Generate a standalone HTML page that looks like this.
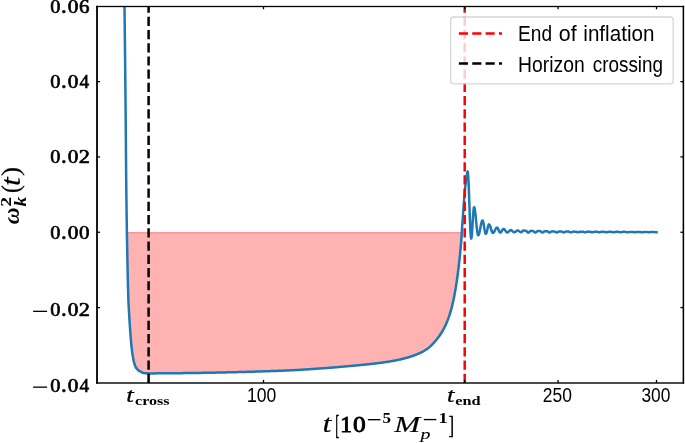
<!DOCTYPE html>
<html><head><meta charset="utf-8"><style>
html,body{margin:0;padding:0;background:#fff;}
svg{display:block;}
text,rect.k{fill:#000;}
.tx{filter:grayscale(1);}
.sans{font-family:"Liberation Sans",sans-serif;}
.ser{font-family:"Liberation Serif",serif;font-weight:bold;}
.serr{font-family:"Liberation Serif",serif;}
.si{font-family:"Liberation Serif",serif;font-style:italic;}
.bi{font-family:"Liberation Serif",serif;font-weight:bold;font-style:italic;}
</style></head><body>
<svg width="685" height="443" viewBox="0 0 685 443">
<defs><clipPath id="ax"><rect x="97.0" y="6.3" width="586.40" height="376.60"/></clipPath></defs>
<rect width="685" height="443" fill="#fff"/>
<g clip-path="url(#ax)">
<path d="M126.90,232.61 L126.94,235.06 L126.98,237.51 L127.02,239.97 L127.06,242.43 L127.11,244.89 L127.15,247.35 L127.20,249.81 L127.25,252.27 L127.29,254.73 L127.34,257.19 L127.39,259.65 L127.44,262.11 L127.49,264.57 L127.54,267.03 L127.59,269.49 L127.65,271.95 L127.70,274.41 L127.75,276.87 L127.81,279.33 L127.87,281.79 L127.93,284.25 L127.99,286.71 L128.06,289.17 L128.13,291.63 L128.20,294.09 L128.28,296.55 L128.36,299.01 L128.46,301.47 L128.56,303.93 L128.69,306.39 L128.82,308.85 L128.96,311.31 L129.11,313.77 L129.26,316.23 L129.42,318.69 L129.57,321.15 L129.72,323.61 L129.88,326.07 L130.04,328.52 L130.21,330.98 L130.39,333.44 L130.57,335.90 L130.76,338.36 L130.97,340.82 L131.19,343.28 L131.44,345.74 L131.71,348.20 L132.00,350.66 L132.32,353.12 L132.69,355.58 L133.11,358.04 L133.59,360.50 L134.18,362.96 L134.94,365.42 L136.10,367.88 L138.34,370.34 L142.80,372.80 L143.30,372.91 L143.80,373.02 L144.30,373.11 L144.80,373.19 L145.30,373.25 L145.80,373.29 L146.30,373.31 L146.80,373.33 L147.30,373.35 L147.80,373.37 L148.30,373.38 L148.80,373.39 L149.30,373.40 L149.80,373.40 L150.30,373.40 L150.80,373.40 L151.30,373.40 L151.80,373.40 L152.30,373.40 L152.80,373.39 L153.30,373.39 L153.80,373.39 L154.30,373.39 L154.80,373.38 L155.30,373.38 L155.80,373.38 L156.30,373.37 L156.80,373.37 L157.30,373.37 L157.80,373.36 L158.30,373.36 L158.80,373.35 L159.30,373.35 L159.80,373.35 L160.30,373.34 L160.80,373.34 L161.30,373.33 L161.80,373.33 L162.30,373.32 L162.80,373.32 L163.30,373.31 L163.80,373.31 L164.30,373.31 L164.80,373.30 L165.30,373.30 L165.80,373.29 L166.30,373.29 L166.80,373.29 L167.30,373.28 L167.80,373.28 L168.30,373.27 L168.80,373.27 L169.30,373.26 L169.80,373.26 L170.30,373.25 L170.80,373.25 L171.30,373.24 L171.80,373.24 L172.30,373.24 L172.80,373.23 L173.30,373.23 L173.80,373.22 L174.30,373.22 L174.80,373.21 L175.30,373.21 L175.80,373.20 L176.30,373.20 L176.80,373.19 L177.30,373.19 L177.80,373.18 L178.30,373.17 L178.80,373.17 L179.30,373.16 L179.80,373.16 L180.30,373.15 L180.80,373.15 L181.30,373.14 L181.80,373.14 L182.30,373.13 L182.80,373.13 L183.30,373.12 L183.80,373.11 L184.30,373.11 L184.80,373.10 L185.30,373.10 L185.80,373.09 L186.30,373.08 L186.80,373.08 L187.30,373.07 L187.80,373.07 L188.30,373.06 L188.80,373.05 L189.30,373.05 L189.80,373.04 L190.30,373.03 L190.80,373.03 L191.30,373.02 L191.80,373.01 L192.30,373.01 L192.80,373.00 L193.30,372.99 L193.80,372.99 L194.30,372.98 L194.80,372.97 L195.30,372.97 L195.80,372.96 L196.30,372.95 L196.80,372.95 L197.30,372.94 L197.80,372.93 L198.30,372.92 L198.80,372.92 L199.30,372.91 L199.80,372.90 L200.30,372.90 L200.80,372.89 L201.30,372.88 L201.80,372.87 L202.30,372.87 L202.80,372.86 L203.30,372.85 L203.80,372.84 L204.30,372.83 L204.80,372.82 L205.30,372.82 L205.80,372.81 L206.30,372.80 L206.80,372.79 L207.30,372.78 L207.80,372.77 L208.30,372.76 L208.80,372.75 L209.30,372.74 L209.80,372.74 L210.30,372.73 L210.80,372.72 L211.30,372.71 L211.80,372.70 L212.30,372.69 L212.80,372.68 L213.30,372.67 L213.80,372.66 L214.30,372.65 L214.80,372.64 L215.30,372.63 L215.80,372.62 L216.30,372.61 L216.80,372.60 L217.30,372.59 L217.80,372.57 L218.30,372.56 L218.80,372.55 L219.30,372.54 L219.80,372.53 L220.30,372.52 L220.80,372.51 L221.30,372.50 L221.80,372.49 L222.30,372.48 L222.80,372.47 L223.30,372.45 L223.80,372.44 L224.30,372.43 L224.80,372.42 L225.30,372.41 L225.80,372.40 L226.30,372.39 L226.80,372.37 L227.30,372.36 L227.80,372.35 L228.30,372.34 L228.80,372.33 L229.30,372.32 L229.80,372.30 L230.30,372.29 L230.80,372.28 L231.30,372.27 L231.80,372.26 L232.30,372.25 L232.80,372.23 L233.30,372.22 L233.80,372.21 L234.30,372.20 L234.80,372.18 L235.30,372.17 L235.80,372.16 L236.30,372.15 L236.80,372.13 L237.30,372.12 L237.80,372.11 L238.30,372.09 L238.80,372.08 L239.30,372.07 L239.80,372.06 L240.30,372.04 L240.80,372.03 L241.30,372.02 L241.80,372.00 L242.30,371.99 L242.80,371.97 L243.30,371.96 L243.80,371.95 L244.30,371.93 L244.80,371.92 L245.30,371.91 L245.80,371.89 L246.30,371.88 L246.80,371.86 L247.30,371.85 L247.80,371.83 L248.30,371.82 L248.80,371.81 L249.30,371.79 L249.80,371.78 L250.30,371.76 L250.80,371.75 L251.30,371.73 L251.80,371.72 L252.30,371.70 L252.80,371.69 L253.30,371.67 L253.80,371.66 L254.30,371.64 L254.80,371.63 L255.30,371.61 L255.80,371.60 L256.30,371.58 L256.80,371.56 L257.30,371.55 L257.80,371.53 L258.30,371.52 L258.80,371.50 L259.30,371.49 L259.80,371.47 L260.30,371.45 L260.80,371.44 L261.30,371.42 L261.80,371.41 L262.30,371.39 L262.80,371.37 L263.30,371.36 L263.80,371.34 L264.30,371.32 L264.80,371.31 L265.30,371.29 L265.80,371.27 L266.30,371.26 L266.80,371.24 L267.30,371.22 L267.80,371.21 L268.30,371.19 L268.80,371.17 L269.30,371.16 L269.80,371.14 L270.30,371.12 L270.80,371.10 L271.30,371.09 L271.80,371.07 L272.30,371.05 L272.80,371.04 L273.30,371.02 L273.80,371.00 L274.30,370.98 L274.80,370.97 L275.30,370.95 L275.80,370.93 L276.30,370.91 L276.80,370.89 L277.30,370.88 L277.80,370.86 L278.30,370.84 L278.80,370.82 L279.30,370.80 L279.80,370.78 L280.30,370.76 L280.80,370.74 L281.30,370.72 L281.80,370.70 L282.30,370.68 L282.80,370.66 L283.30,370.64 L283.80,370.62 L284.30,370.60 L284.80,370.58 L285.30,370.56 L285.80,370.53 L286.30,370.51 L286.80,370.49 L287.30,370.47 L287.80,370.45 L288.30,370.42 L288.80,370.40 L289.30,370.38 L289.80,370.35 L290.30,370.33 L290.80,370.31 L291.30,370.28 L291.80,370.26 L292.30,370.23 L292.80,370.21 L293.30,370.18 L293.80,370.16 L294.30,370.13 L294.80,370.10 L295.30,370.08 L295.80,370.05 L296.30,370.03 L296.80,370.00 L297.30,369.97 L297.80,369.94 L298.30,369.92 L298.80,369.89 L299.30,369.86 L299.80,369.83 L300.30,369.80 L300.80,369.77 L301.30,369.74 L301.80,369.71 L302.30,369.68 L302.80,369.65 L303.30,369.62 L303.80,369.59 L304.30,369.56 L304.80,369.53 L305.30,369.49 L305.80,369.46 L306.30,369.43 L306.80,369.39 L307.30,369.36 L307.80,369.33 L308.30,369.29 L308.80,369.26 L309.30,369.23 L309.80,369.19 L310.30,369.16 L310.80,369.13 L311.30,369.09 L311.80,369.06 L312.30,369.02 L312.80,368.99 L313.30,368.96 L313.80,368.92 L314.30,368.89 L314.80,368.85 L315.30,368.82 L315.80,368.78 L316.30,368.75 L316.80,368.71 L317.30,368.68 L317.80,368.64 L318.30,368.61 L318.80,368.57 L319.30,368.54 L319.80,368.50 L320.30,368.47 L320.80,368.43 L321.30,368.39 L321.80,368.36 L322.30,368.32 L322.80,368.28 L323.30,368.25 L323.80,368.21 L324.30,368.17 L324.80,368.14 L325.30,368.10 L325.80,368.06 L326.30,368.02 L326.80,367.99 L327.30,367.95 L327.80,367.91 L328.30,367.87 L328.80,367.83 L329.30,367.79 L329.80,367.75 L330.30,367.71 L330.80,367.67 L331.30,367.63 L331.80,367.59 L332.30,367.55 L332.80,367.51 L333.30,367.47 L333.80,367.43 L334.30,367.39 L334.80,367.35 L335.30,367.31 L335.80,367.27 L336.30,367.23 L336.80,367.18 L337.30,367.14 L337.80,367.10 L338.30,367.06 L338.80,367.01 L339.30,366.97 L339.80,366.93 L340.30,366.89 L340.80,366.84 L341.30,366.80 L341.80,366.76 L342.30,366.71 L342.80,366.67 L343.30,366.62 L343.80,366.58 L344.30,366.54 L344.80,366.49 L345.30,366.45 L345.80,366.40 L346.30,366.36 L346.80,366.31 L347.30,366.27 L347.80,366.22 L348.30,366.18 L348.80,366.13 L349.30,366.09 L349.80,366.04 L350.30,366.00 L350.80,365.95 L351.30,365.90 L351.80,365.86 L352.30,365.81 L352.80,365.76 L353.30,365.72 L353.80,365.67 L354.30,365.63 L354.80,365.58 L355.30,365.53 L355.80,365.48 L356.30,365.44 L356.80,365.39 L357.30,365.34 L357.80,365.30 L358.30,365.25 L358.80,365.20 L359.30,365.15 L359.80,365.10 L360.30,365.06 L360.80,365.01 L361.30,364.96 L361.80,364.91 L362.30,364.86 L362.80,364.81 L363.30,364.76 L363.80,364.71 L364.30,364.66 L364.80,364.61 L365.30,364.56 L365.80,364.51 L366.30,364.46 L366.80,364.40 L367.30,364.35 L367.80,364.30 L368.30,364.25 L368.80,364.19 L369.30,364.14 L369.80,364.09 L370.30,364.03 L370.80,363.98 L371.30,363.92 L371.80,363.87 L372.30,363.81 L372.80,363.75 L373.30,363.70 L373.80,363.64 L374.30,363.58 L374.80,363.52 L375.30,363.46 L375.80,363.40 L376.30,363.34 L376.80,363.28 L377.30,363.22 L377.80,363.16 L378.30,363.10 L378.80,363.03 L379.30,362.97 L379.80,362.91 L380.30,362.84 L380.80,362.77 L381.30,362.71 L381.80,362.64 L382.30,362.57 L382.80,362.50 L383.30,362.43 L383.80,362.36 L384.30,362.29 L384.80,362.22 L385.30,362.15 L385.80,362.07 L386.30,362.00 L386.80,361.92 L387.30,361.84 L387.80,361.77 L388.30,361.69 L388.80,361.61 L389.30,361.53 L389.80,361.44 L390.30,361.36 L390.80,361.28 L391.30,361.19 L391.80,361.10 L392.30,361.02 L392.80,360.93 L393.30,360.84 L393.80,360.74 L394.30,360.65 L394.80,360.56 L395.30,360.46 L395.80,360.36 L396.30,360.26 L396.80,360.16 L397.30,360.06 L397.80,359.96 L398.30,359.85 L398.80,359.74 L399.30,359.64 L399.80,359.53 L400.30,359.41 L400.80,359.30 L401.30,359.18 L401.80,359.06 L402.30,358.94 L402.80,358.82 L403.30,358.70 L403.80,358.57 L404.30,358.44 L404.80,358.31 L405.30,358.18 L405.80,358.05 L406.30,357.91 L406.80,357.77 L407.30,357.63 L407.80,357.48 L408.30,357.33 L408.80,357.18 L409.30,357.03 L409.80,356.87 L410.30,356.71 L410.80,356.55 L411.30,356.39 L411.80,356.22 L412.30,356.05 L412.80,355.87 L413.30,355.70 L413.80,355.52 L414.30,355.33 L414.80,355.14 L415.30,354.95 L415.80,354.76 L416.30,354.56 L416.80,354.35 L417.30,354.14 L417.80,353.93 L418.30,353.72 L418.80,353.50 L419.30,353.27 L419.80,353.04 L420.30,352.81 L420.80,352.57 L421.30,352.33 L421.80,352.08 L422.30,351.82 L422.80,351.55 L423.30,351.28 L423.80,351.00 L424.30,350.72 L424.80,350.42 L425.30,350.11 L425.80,349.80 L426.30,349.47 L426.80,349.13 L427.30,348.78 L427.80,348.41 L428.30,348.03 L428.80,347.64 L429.30,347.23 L429.80,346.80 L430.30,346.36 L430.80,345.89 L431.30,345.41 L431.80,344.92 L432.30,344.41 L432.80,343.88 L433.30,343.35 L433.80,342.80 L434.30,342.24 L434.80,341.68 L435.30,341.10 L435.80,340.51 L436.30,339.91 L436.80,339.30 L437.30,338.67 L437.80,338.03 L438.30,337.37 L438.80,336.70 L439.30,336.01 L439.80,335.30 L440.30,334.56 L440.80,333.81 L441.30,333.03 L441.80,332.23 L442.30,331.40 L442.80,330.54 L443.30,329.64 L443.80,328.72 L444.30,327.76 L444.80,326.76 L445.30,325.73 L445.80,324.65 L446.30,323.52 L446.80,322.35 L447.30,321.13 L447.80,319.85 L448.30,318.51 L448.80,317.11 L449.30,315.64 L449.80,314.10 L450.30,312.49 L450.80,310.79 L451.30,309.00 L451.80,307.11 L452.30,305.11 L452.80,303.01 L453.30,300.78 L453.80,298.42 L454.30,295.93 L454.80,293.29 L455.30,290.49 L455.80,287.53 L456.30,284.39 L456.80,281.06 L457.30,277.52 L457.80,273.78 L458.30,269.80 L458.80,265.57 L459.30,261.08 L459.80,256.30 L460.30,251.22 L460.80,245.82 L461.30,240.06 L461.59,235.95 L461.69,234.26 L461.78,232.61 Z" fill="rgba(255,0,0,0.3)" stroke="rgba(255,0,0,0.3)" stroke-width="1.27"/>
<path d="M124.50,6.30 L124.53,8.76 L124.56,11.22 L124.59,13.68 L124.61,16.14 L124.64,18.60 L124.67,21.06 L124.70,23.52 L124.73,25.98 L124.75,28.44 L124.78,30.90 L124.81,33.36 L124.84,35.82 L124.86,38.28 L124.89,40.74 L124.92,43.20 L124.95,45.66 L124.97,48.12 L125.00,50.58 L125.03,53.03 L125.05,55.49 L125.08,57.95 L125.10,60.41 L125.13,62.87 L125.16,65.33 L125.18,67.79 L125.21,70.25 L125.23,72.71 L125.26,75.17 L125.28,77.63 L125.31,80.09 L125.34,82.55 L125.36,85.01 L125.39,87.47 L125.41,89.93 L125.44,92.39 L125.46,94.85 L125.48,97.31 L125.51,99.77 L125.53,102.23 L125.56,104.69 L125.58,107.15 L125.60,109.61 L125.63,112.07 L125.65,114.53 L125.67,116.99 L125.69,119.45 L125.72,121.91 L125.74,124.37 L125.76,126.83 L125.78,129.29 L125.80,131.75 L125.82,134.21 L125.84,136.67 L125.86,139.13 L125.88,141.59 L125.90,144.04 L125.92,146.50 L125.93,148.96 L125.95,151.42 L125.97,153.88 L125.99,156.34 L126.01,158.80 L126.03,161.26 L126.05,163.72 L126.07,166.18 L126.09,168.64 L126.12,171.10 L126.14,173.56 L126.16,176.02 L126.18,178.48 L126.21,180.94 L126.24,183.40 L126.26,185.86 L126.29,188.32 L126.32,190.78 L126.35,193.24 L126.37,195.70 L126.40,198.16 L126.44,200.62 L126.47,203.08 L126.50,205.54 L126.53,208.00 L126.57,210.46 L126.60,212.92 L126.63,215.38 L126.67,217.84 L126.70,220.30 L126.74,222.76 L126.78,225.22 L126.82,227.68 L126.85,230.14 L126.89,232.60 L126.94,235.06 L126.98,237.51 L127.02,239.97 L127.06,242.43 L127.11,244.89 L127.15,247.35 L127.20,249.81 L127.25,252.27 L127.29,254.73 L127.34,257.19 L127.39,259.65 L127.44,262.11 L127.49,264.57 L127.54,267.03 L127.59,269.49 L127.65,271.95 L127.70,274.41 L127.75,276.87 L127.81,279.33 L127.87,281.79 L127.93,284.25 L127.99,286.71 L128.06,289.17 L128.13,291.63 L128.20,294.09 L128.28,296.55 L128.36,299.01 L128.46,301.47 L128.56,303.93 L128.69,306.39 L128.82,308.85 L128.96,311.31 L129.11,313.77 L129.26,316.23 L129.42,318.69 L129.57,321.15 L129.72,323.61 L129.88,326.07 L130.04,328.52 L130.21,330.98 L130.39,333.44 L130.57,335.90 L130.76,338.36 L130.97,340.82 L131.19,343.28 L131.44,345.74 L131.71,348.20 L132.00,350.66 L132.32,353.12 L132.69,355.58 L133.11,358.04 L133.59,360.50 L134.18,362.96 L134.94,365.42 L136.10,367.88 L138.34,370.34 L142.80,372.80 L143.30,372.91 L143.80,373.02 L144.30,373.11 L144.80,373.19 L145.30,373.25 L145.80,373.29 L146.30,373.31 L146.80,373.33 L147.30,373.35 L147.80,373.37 L148.30,373.38 L148.80,373.39 L149.30,373.40 L149.80,373.40 L150.30,373.40 L150.80,373.40 L151.30,373.40 L151.80,373.40 L152.30,373.40 L152.80,373.39 L153.30,373.39 L153.80,373.39 L154.30,373.39 L154.80,373.38 L155.30,373.38 L155.80,373.38 L156.30,373.37 L156.80,373.37 L157.30,373.37 L157.80,373.36 L158.30,373.36 L158.80,373.35 L159.30,373.35 L159.80,373.35 L160.30,373.34 L160.80,373.34 L161.30,373.33 L161.80,373.33 L162.30,373.32 L162.80,373.32 L163.30,373.31 L163.80,373.31 L164.30,373.31 L164.80,373.30 L165.30,373.30 L165.80,373.29 L166.30,373.29 L166.80,373.29 L167.30,373.28 L167.80,373.28 L168.30,373.27 L168.80,373.27 L169.30,373.26 L169.80,373.26 L170.30,373.25 L170.80,373.25 L171.30,373.24 L171.80,373.24 L172.30,373.24 L172.80,373.23 L173.30,373.23 L173.80,373.22 L174.30,373.22 L174.80,373.21 L175.30,373.21 L175.80,373.20 L176.30,373.20 L176.80,373.19 L177.30,373.19 L177.80,373.18 L178.30,373.17 L178.80,373.17 L179.30,373.16 L179.80,373.16 L180.30,373.15 L180.80,373.15 L181.30,373.14 L181.80,373.14 L182.30,373.13 L182.80,373.13 L183.30,373.12 L183.80,373.11 L184.30,373.11 L184.80,373.10 L185.30,373.10 L185.80,373.09 L186.30,373.08 L186.80,373.08 L187.30,373.07 L187.80,373.07 L188.30,373.06 L188.80,373.05 L189.30,373.05 L189.80,373.04 L190.30,373.03 L190.80,373.03 L191.30,373.02 L191.80,373.01 L192.30,373.01 L192.80,373.00 L193.30,372.99 L193.80,372.99 L194.30,372.98 L194.80,372.97 L195.30,372.97 L195.80,372.96 L196.30,372.95 L196.80,372.95 L197.30,372.94 L197.80,372.93 L198.30,372.92 L198.80,372.92 L199.30,372.91 L199.80,372.90 L200.30,372.90 L200.80,372.89 L201.30,372.88 L201.80,372.87 L202.30,372.87 L202.80,372.86 L203.30,372.85 L203.80,372.84 L204.30,372.83 L204.80,372.82 L205.30,372.82 L205.80,372.81 L206.30,372.80 L206.80,372.79 L207.30,372.78 L207.80,372.77 L208.30,372.76 L208.80,372.75 L209.30,372.74 L209.80,372.74 L210.30,372.73 L210.80,372.72 L211.30,372.71 L211.80,372.70 L212.30,372.69 L212.80,372.68 L213.30,372.67 L213.80,372.66 L214.30,372.65 L214.80,372.64 L215.30,372.63 L215.80,372.62 L216.30,372.61 L216.80,372.60 L217.30,372.59 L217.80,372.57 L218.30,372.56 L218.80,372.55 L219.30,372.54 L219.80,372.53 L220.30,372.52 L220.80,372.51 L221.30,372.50 L221.80,372.49 L222.30,372.48 L222.80,372.47 L223.30,372.45 L223.80,372.44 L224.30,372.43 L224.80,372.42 L225.30,372.41 L225.80,372.40 L226.30,372.39 L226.80,372.37 L227.30,372.36 L227.80,372.35 L228.30,372.34 L228.80,372.33 L229.30,372.32 L229.80,372.30 L230.30,372.29 L230.80,372.28 L231.30,372.27 L231.80,372.26 L232.30,372.25 L232.80,372.23 L233.30,372.22 L233.80,372.21 L234.30,372.20 L234.80,372.18 L235.30,372.17 L235.80,372.16 L236.30,372.15 L236.80,372.13 L237.30,372.12 L237.80,372.11 L238.30,372.09 L238.80,372.08 L239.30,372.07 L239.80,372.06 L240.30,372.04 L240.80,372.03 L241.30,372.02 L241.80,372.00 L242.30,371.99 L242.80,371.97 L243.30,371.96 L243.80,371.95 L244.30,371.93 L244.80,371.92 L245.30,371.91 L245.80,371.89 L246.30,371.88 L246.80,371.86 L247.30,371.85 L247.80,371.83 L248.30,371.82 L248.80,371.81 L249.30,371.79 L249.80,371.78 L250.30,371.76 L250.80,371.75 L251.30,371.73 L251.80,371.72 L252.30,371.70 L252.80,371.69 L253.30,371.67 L253.80,371.66 L254.30,371.64 L254.80,371.63 L255.30,371.61 L255.80,371.60 L256.30,371.58 L256.80,371.56 L257.30,371.55 L257.80,371.53 L258.30,371.52 L258.80,371.50 L259.30,371.49 L259.80,371.47 L260.30,371.45 L260.80,371.44 L261.30,371.42 L261.80,371.41 L262.30,371.39 L262.80,371.37 L263.30,371.36 L263.80,371.34 L264.30,371.32 L264.80,371.31 L265.30,371.29 L265.80,371.27 L266.30,371.26 L266.80,371.24 L267.30,371.22 L267.80,371.21 L268.30,371.19 L268.80,371.17 L269.30,371.16 L269.80,371.14 L270.30,371.12 L270.80,371.10 L271.30,371.09 L271.80,371.07 L272.30,371.05 L272.80,371.04 L273.30,371.02 L273.80,371.00 L274.30,370.98 L274.80,370.97 L275.30,370.95 L275.80,370.93 L276.30,370.91 L276.80,370.89 L277.30,370.88 L277.80,370.86 L278.30,370.84 L278.80,370.82 L279.30,370.80 L279.80,370.78 L280.30,370.76 L280.80,370.74 L281.30,370.72 L281.80,370.70 L282.30,370.68 L282.80,370.66 L283.30,370.64 L283.80,370.62 L284.30,370.60 L284.80,370.58 L285.30,370.56 L285.80,370.53 L286.30,370.51 L286.80,370.49 L287.30,370.47 L287.80,370.45 L288.30,370.42 L288.80,370.40 L289.30,370.38 L289.80,370.35 L290.30,370.33 L290.80,370.31 L291.30,370.28 L291.80,370.26 L292.30,370.23 L292.80,370.21 L293.30,370.18 L293.80,370.16 L294.30,370.13 L294.80,370.10 L295.30,370.08 L295.80,370.05 L296.30,370.03 L296.80,370.00 L297.30,369.97 L297.80,369.94 L298.30,369.92 L298.80,369.89 L299.30,369.86 L299.80,369.83 L300.30,369.80 L300.80,369.77 L301.30,369.74 L301.80,369.71 L302.30,369.68 L302.80,369.65 L303.30,369.62 L303.80,369.59 L304.30,369.56 L304.80,369.53 L305.30,369.49 L305.80,369.46 L306.30,369.43 L306.80,369.39 L307.30,369.36 L307.80,369.33 L308.30,369.29 L308.80,369.26 L309.30,369.23 L309.80,369.19 L310.30,369.16 L310.80,369.13 L311.30,369.09 L311.80,369.06 L312.30,369.02 L312.80,368.99 L313.30,368.96 L313.80,368.92 L314.30,368.89 L314.80,368.85 L315.30,368.82 L315.80,368.78 L316.30,368.75 L316.80,368.71 L317.30,368.68 L317.80,368.64 L318.30,368.61 L318.80,368.57 L319.30,368.54 L319.80,368.50 L320.30,368.47 L320.80,368.43 L321.30,368.39 L321.80,368.36 L322.30,368.32 L322.80,368.28 L323.30,368.25 L323.80,368.21 L324.30,368.17 L324.80,368.14 L325.30,368.10 L325.80,368.06 L326.30,368.02 L326.80,367.99 L327.30,367.95 L327.80,367.91 L328.30,367.87 L328.80,367.83 L329.30,367.79 L329.80,367.75 L330.30,367.71 L330.80,367.67 L331.30,367.63 L331.80,367.59 L332.30,367.55 L332.80,367.51 L333.30,367.47 L333.80,367.43 L334.30,367.39 L334.80,367.35 L335.30,367.31 L335.80,367.27 L336.30,367.23 L336.80,367.18 L337.30,367.14 L337.80,367.10 L338.30,367.06 L338.80,367.01 L339.30,366.97 L339.80,366.93 L340.30,366.89 L340.80,366.84 L341.30,366.80 L341.80,366.76 L342.30,366.71 L342.80,366.67 L343.30,366.62 L343.80,366.58 L344.30,366.54 L344.80,366.49 L345.30,366.45 L345.80,366.40 L346.30,366.36 L346.80,366.31 L347.30,366.27 L347.80,366.22 L348.30,366.18 L348.80,366.13 L349.30,366.09 L349.80,366.04 L350.30,366.00 L350.80,365.95 L351.30,365.90 L351.80,365.86 L352.30,365.81 L352.80,365.76 L353.30,365.72 L353.80,365.67 L354.30,365.63 L354.80,365.58 L355.30,365.53 L355.80,365.48 L356.30,365.44 L356.80,365.39 L357.30,365.34 L357.80,365.30 L358.30,365.25 L358.80,365.20 L359.30,365.15 L359.80,365.10 L360.30,365.06 L360.80,365.01 L361.30,364.96 L361.80,364.91 L362.30,364.86 L362.80,364.81 L363.30,364.76 L363.80,364.71 L364.30,364.66 L364.80,364.61 L365.30,364.56 L365.80,364.51 L366.30,364.46 L366.80,364.40 L367.30,364.35 L367.80,364.30 L368.30,364.25 L368.80,364.19 L369.30,364.14 L369.80,364.09 L370.30,364.03 L370.80,363.98 L371.30,363.92 L371.80,363.87 L372.30,363.81 L372.80,363.75 L373.30,363.70 L373.80,363.64 L374.30,363.58 L374.80,363.52 L375.30,363.46 L375.80,363.40 L376.30,363.34 L376.80,363.28 L377.30,363.22 L377.80,363.16 L378.30,363.10 L378.80,363.03 L379.30,362.97 L379.80,362.91 L380.30,362.84 L380.80,362.77 L381.30,362.71 L381.80,362.64 L382.30,362.57 L382.80,362.50 L383.30,362.43 L383.80,362.36 L384.30,362.29 L384.80,362.22 L385.30,362.15 L385.80,362.07 L386.30,362.00 L386.80,361.92 L387.30,361.84 L387.80,361.77 L388.30,361.69 L388.80,361.61 L389.30,361.53 L389.80,361.44 L390.30,361.36 L390.80,361.28 L391.30,361.19 L391.80,361.10 L392.30,361.02 L392.80,360.93 L393.30,360.84 L393.80,360.74 L394.30,360.65 L394.80,360.56 L395.30,360.46 L395.80,360.36 L396.30,360.26 L396.80,360.16 L397.30,360.06 L397.80,359.96 L398.30,359.85 L398.80,359.74 L399.30,359.64 L399.80,359.53 L400.30,359.41 L400.80,359.30 L401.30,359.18 L401.80,359.06 L402.30,358.94 L402.80,358.82 L403.30,358.70 L403.80,358.57 L404.30,358.44 L404.80,358.31 L405.30,358.18 L405.80,358.05 L406.30,357.91 L406.80,357.77 L407.30,357.63 L407.80,357.48 L408.30,357.33 L408.80,357.18 L409.30,357.03 L409.80,356.87 L410.30,356.71 L410.80,356.55 L411.30,356.39 L411.80,356.22 L412.30,356.05 L412.80,355.87 L413.30,355.70 L413.80,355.52 L414.30,355.33 L414.80,355.14 L415.30,354.95 L415.80,354.76 L416.30,354.56 L416.80,354.35 L417.30,354.14 L417.80,353.93 L418.30,353.72 L418.80,353.50 L419.30,353.27 L419.80,353.04 L420.30,352.81 L420.80,352.57 L421.30,352.33 L421.80,352.08 L422.30,351.82 L422.80,351.55 L423.30,351.28 L423.80,351.00 L424.30,350.72 L424.80,350.42 L425.30,350.11 L425.80,349.80 L426.30,349.47 L426.80,349.13 L427.30,348.78 L427.80,348.41 L428.30,348.03 L428.80,347.64 L429.30,347.23 L429.80,346.80 L430.30,346.36 L430.80,345.89 L431.30,345.41 L431.80,344.92 L432.30,344.41 L432.80,343.88 L433.30,343.35 L433.80,342.80 L434.30,342.24 L434.80,341.68 L435.30,341.10 L435.80,340.51 L436.30,339.91 L436.80,339.30 L437.30,338.67 L437.80,338.03 L438.30,337.37 L438.80,336.70 L439.30,336.01 L439.80,335.30 L440.30,334.56 L440.80,333.81 L441.30,333.03 L441.80,332.23 L442.30,331.40 L442.80,330.54 L443.30,329.64 L443.80,328.72 L444.30,327.76 L444.80,326.76 L445.30,325.73 L445.80,324.65 L446.30,323.52 L446.80,322.35 L447.30,321.13 L447.80,319.85 L448.30,318.51 L448.80,317.11 L449.30,315.64 L449.80,314.10 L450.30,312.49 L450.80,310.79 L451.30,309.00 L451.80,307.11 L452.30,305.11 L452.80,303.01 L453.30,300.78 L453.80,298.42 L454.30,295.93 L454.80,293.29 L455.30,290.49 L455.80,287.53 L456.30,284.39 L456.80,281.06 L457.30,277.52 L457.80,273.78 L458.30,269.80 L458.80,265.57 L459.30,261.08 L459.80,256.30 L460.30,251.22 L460.80,245.82 L461.30,240.06 L461.59,235.95 L461.69,234.26 L461.79,232.56 L461.89,230.86 L461.99,229.16 L462.10,227.46 L462.22,225.76 L462.33,224.06 L462.45,222.36 L462.58,220.66 L462.70,218.97 L462.83,217.27 L462.96,215.57 L463.09,213.87 L463.21,212.17 L463.33,210.47 L463.45,208.77 L463.57,207.07 L463.69,205.38 L463.81,203.68 L463.93,201.98 L464.06,200.28 L464.19,198.58 L464.33,196.88 L464.48,195.18 L464.62,193.48 L464.78,191.79 L464.94,190.09 L465.11,188.39 L465.28,186.69 L465.46,184.99 L465.65,183.29 L465.84,181.59 L466.06,179.89 L466.29,178.20 L466.55,176.50 L466.86,174.80 L467.21,173.10 L467.60,171.40 L467.93,172.76 L468.25,176.73 L468.58,183.00 L468.91,191.04 L469.24,200.22 L469.56,209.78 L469.89,218.96 L470.22,227.00 L470.55,233.27 L470.87,237.24 L471.20,238.60 L471.46,237.96 L471.73,236.11 L471.99,233.18 L472.25,229.42 L472.52,225.13 L472.78,220.67 L473.05,216.38 L473.31,212.62 L473.57,209.69 L473.84,207.84 L474.10,207.20 L474.47,207.77 L474.85,209.43 L475.22,212.05 L475.59,215.41 L475.96,219.25 L476.34,223.25 L476.71,227.09 L477.08,230.45 L477.45,233.07 L477.83,234.73 L478.20,235.30 L478.59,235.00 L478.98,234.13 L479.37,232.75 L479.76,230.97 L480.15,228.95 L480.55,226.85 L480.94,224.83 L481.33,223.05 L481.72,221.67 L482.11,220.80 L482.50,220.50 L482.80,220.77 L483.10,221.56 L483.40,222.80 L483.70,224.39 L484.00,226.20 L484.30,228.10 L484.60,229.91 L484.90,231.50 L485.20,232.74 L485.50,233.53 L485.80,233.80 L486.10,233.61 L486.40,233.05 L486.70,232.18 L487.00,231.05 L487.30,229.77 L487.60,228.43 L487.90,227.15 L488.20,226.02 L488.50,225.15 L488.80,224.59 L489.10,224.40 L489.45,224.57 L489.79,225.08 L490.14,225.88 L490.48,226.91 L490.83,228.09 L491.17,229.31 L491.52,230.49 L491.86,231.52 L492.21,232.32 L492.55,232.83 L492.90,233.00 L493.27,232.89 L493.65,232.57 L494.02,232.07 L494.39,231.42 L494.76,230.68 L495.14,229.92 L495.51,229.18 L495.88,228.53 L496.25,228.03 L496.63,227.71 L497.00,227.60 L497.30,227.70 L497.60,228.00 L497.90,228.46 L498.20,229.06 L498.50,229.74 L498.80,230.46 L499.10,231.14 L499.40,231.74 L499.70,232.20 L500.00,232.50 L500.30,232.60 L500.59,232.53 L500.88,232.31 L501.17,231.96 L501.46,231.52 L501.75,231.01 L502.05,230.49 L502.34,229.98 L502.63,229.54 L502.92,229.19 L503.21,228.97 L503.50,228.90 L503.85,228.97 L504.19,229.18 L504.54,229.50 L504.88,229.92 L505.23,230.40 L505.57,230.90 L505.92,231.38 L506.26,231.80 L506.61,232.12 L506.95,232.33 L507.30,232.40 L507.63,232.35 L507.95,232.22 L508.28,232.00 L508.61,231.73 L508.94,231.41 L509.26,231.09 L509.59,230.77 L509.92,230.50 L510.25,230.28 L510.57,230.15 L510.90,230.10 L511.20,230.14 L511.50,230.27 L511.80,230.47 L512.10,230.73 L512.40,231.02 L512.70,231.33 L513.00,231.62 L513.30,231.88 L513.60,232.08 L513.90,232.21 L514.20,232.25 L514.51,232.21 L514.82,232.11 L515.13,231.95 L515.44,231.74 L515.75,231.50 L516.05,231.25 L516.36,231.01 L516.67,230.80 L516.98,230.64 L517.29,230.54 L517.60,230.50 L517.93,230.53 L518.25,230.63 L518.58,230.79 L518.91,231.00 L519.24,231.23 L519.56,231.47 L519.89,231.70 L520.22,231.91 L520.55,232.07 L520.87,232.17 L521.20,232.20 L521.45,232.15 L521.70,231.99 L521.95,231.75 L522.20,231.46 L522.45,231.17 L522.70,230.90 L522.95,230.68 L523.20,230.53 L523.45,230.44 L523.70,230.43 L523.95,230.45 L524.20,230.51 L524.45,230.57 L524.70,230.62 L524.95,230.63 L525.20,230.63 L525.45,230.64 L525.70,230.67 L525.95,230.75 L526.20,230.88 L526.45,231.07 L526.70,231.32 L526.95,231.61 L527.20,231.91 L527.45,232.19 L527.70,232.43 L527.95,232.59 L528.20,232.66 L528.45,232.62 L528.70,232.50 L528.95,232.29 L529.20,232.04 L529.45,231.76 L529.70,231.49 L529.95,231.26 L530.20,231.08 L530.45,230.96 L530.70,230.89 L530.95,230.86 L531.20,230.87 L531.45,230.88 L531.70,230.90 L531.95,230.91 L532.20,230.91 L532.45,230.91 L532.70,230.93 L532.95,230.97 L533.20,231.06 L533.45,231.20 L533.70,231.39 L533.95,231.62 L534.20,231.86 L534.45,232.11 L534.70,232.32 L534.95,232.48 L535.20,232.57 L535.45,232.58 L535.70,232.50 L535.95,232.36 L536.20,232.16 L536.45,231.93 L536.70,231.70 L536.95,231.49 L537.20,231.32 L537.45,231.20 L537.70,231.12 L537.95,231.09 L538.20,231.08 L538.45,231.09 L538.70,231.10 L538.95,231.11 L539.20,231.11 L539.45,231.11 L539.70,231.12 L539.95,231.15 L540.20,231.21 L540.45,231.31 L540.70,231.45 L540.95,231.63 L541.20,231.83 L541.45,232.04 L541.70,232.24 L541.95,232.40 L542.20,232.50 L542.45,232.53 L542.70,232.49 L542.95,232.39 L543.20,232.24 L543.45,232.05 L543.70,231.85 L543.95,231.66 L544.20,231.50 L544.45,231.38 L544.70,231.30 L544.95,231.26 L545.20,231.24 L545.45,231.25 L545.70,231.26 L545.95,231.27 L546.20,231.27 L546.45,231.27 L546.70,231.27 L546.95,231.29 L547.20,231.32 L547.45,231.39 L547.70,231.50 L547.95,231.64 L548.20,231.81 L548.45,231.99 L548.70,232.17 L548.95,232.32 L549.20,232.43 L549.45,232.48 L549.70,232.47 L549.95,232.41 L550.20,232.29 L550.45,232.14 L550.70,231.97 L550.95,231.80 L551.20,231.65 L551.45,231.53 L551.70,231.44 L551.95,231.39 L552.20,231.37 L552.45,231.37 L552.70,231.38 L552.95,231.39 L553.20,231.39 L553.45,231.39 L553.70,231.39 L553.95,231.40 L554.20,231.42 L554.45,231.47 L554.70,231.55 L554.95,231.66 L555.20,231.80 L555.45,231.95 L555.70,232.11 L555.95,232.25 L556.20,232.36 L556.45,232.43 L556.70,232.44 L556.95,232.41 L557.20,232.32 L557.45,232.20 L557.70,232.05 L557.95,231.90 L558.20,231.77 L558.45,231.65 L558.70,231.56 L558.95,231.51 L559.20,231.48 L559.45,231.47 L559.70,231.47 L559.95,231.48 L560.20,231.49 L560.45,231.49 L560.70,231.49 L560.95,231.49 L561.20,231.50 L561.45,231.54 L561.70,231.59 L561.95,231.68 L562.20,231.79 L562.45,231.92 L562.70,232.06 L562.95,232.20 L563.20,232.30 L563.45,232.38 L563.70,232.41 L563.95,232.40 L564.20,232.34 L564.45,232.24 L564.70,232.12 L564.95,231.99 L565.20,231.86 L565.45,231.75 L565.70,231.66 L565.95,231.60 L566.20,231.57 L566.45,231.55 L566.70,231.55 L566.95,231.56 L567.20,231.56 L567.45,231.57 L567.70,231.57 L567.95,231.57 L568.20,231.57 L568.45,231.59 L568.70,231.64 L568.95,231.70 L569.20,231.79 L569.45,231.90 L569.70,232.03 L569.95,232.15 L570.20,232.25 L570.45,232.33 L570.70,232.38 L570.95,232.38 L571.20,232.34 L571.45,232.27 L571.70,232.17 L571.95,232.05 L572.20,231.94 L572.45,231.83 L572.70,231.74 L572.95,231.68 L573.20,231.64 L573.45,231.62 L573.70,231.62 L573.95,231.62 L574.20,231.63 L574.45,231.63 L574.70,231.63 L574.95,231.63 L575.20,231.63 L575.45,231.65 L575.70,231.67 L575.95,231.72 L576.20,231.80 L576.45,231.89 L576.70,232.00 L576.95,232.11 L577.20,232.21 L577.45,232.29 L577.70,232.34 L577.95,232.36 L578.20,232.34 L578.45,232.29 L578.70,232.21 L578.95,232.11 L579.20,232.00 L579.45,231.90 L579.70,231.82 L579.95,231.75 L580.20,231.71 L580.45,231.68 L580.70,231.67 L580.95,231.68 L581.20,231.68 L581.45,231.68 L581.70,231.68 L581.95,231.68 L582.20,231.68 L582.45,231.69 L582.70,231.71 L582.95,231.75 L583.20,231.81 L583.45,231.88 L583.70,231.97 L583.95,232.07 L584.20,232.17 L584.45,232.25 L584.70,232.31 L584.95,232.34 L585.20,232.34 L585.45,232.30 L585.70,232.23 L585.95,232.15 L586.20,232.06 L586.45,231.96 L586.70,231.88 L586.95,231.81 L587.20,231.76 L587.45,231.73 L587.70,231.72 L587.95,231.72 L588.20,231.72 L588.45,231.73 L588.70,231.73 L588.95,231.73 L589.20,231.73 L589.45,231.73 L589.70,231.74 L589.95,231.77 L590.20,231.81 L590.45,231.88 L590.70,231.96 L590.95,232.04 L591.20,232.13 L591.45,232.21 L591.70,232.28 L591.95,232.31 L592.20,232.32 L592.45,232.30 L592.70,232.25 L592.95,232.18 L593.20,232.10 L593.45,232.01 L593.70,231.93 L593.95,231.86 L594.20,231.81 L594.45,231.78 L594.70,231.76 L594.95,231.76 L595.20,231.76 L595.45,231.76 L595.70,231.77 L595.95,231.77 L596.20,231.77 L596.45,231.77 L596.70,231.77 L596.95,231.79 L597.20,231.83 L597.45,231.88 L597.70,231.94 L597.95,232.02 L598.20,232.10 L598.45,232.18 L598.70,232.24 L598.95,232.29 L599.20,232.31 L599.45,232.30 L599.70,232.26 L599.95,232.21 L600.20,232.13 L600.45,232.06 L600.70,231.98 L600.95,231.91 L601.20,231.86 L601.45,231.82 L601.70,231.80 L601.95,231.79 L602.20,231.79 L602.45,231.80 L602.70,231.80 L602.95,231.80 L603.20,231.80 L603.45,231.80 L603.70,231.80 L603.95,231.81 L604.20,231.84 L604.45,231.88 L604.70,231.93 L604.95,232.00 L605.20,232.08 L605.45,232.15 L605.70,232.21 L605.95,232.26 L606.20,232.29 L606.45,232.29 L606.70,232.27 L606.95,232.22 L607.20,232.16 L607.45,232.09 L607.70,232.02 L607.95,231.95 L608.20,231.90 L608.45,231.86 L608.70,231.84 L608.95,231.82 L609.20,231.82 L609.45,231.82 L609.70,231.83 L609.95,231.83 L610.20,231.83 L610.45,231.83 L610.70,231.83 L610.95,231.84 L611.20,231.85 L611.45,231.88 L611.70,231.93 L611.95,231.99 L612.20,232.05 L612.45,232.12 L612.70,232.19 L612.95,232.24 L613.20,232.27 L613.45,232.28 L613.70,232.27 L613.95,232.24 L614.20,232.19 L614.45,232.12 L614.70,232.06 L614.95,231.99 L615.20,231.94 L615.45,231.90 L615.70,231.87 L615.95,231.85 L616.20,231.85 L616.45,231.85 L616.70,231.85 L616.95,231.85 L617.20,231.85 L617.45,231.85 L617.70,231.85 L617.95,231.86 L618.20,231.87 L618.45,231.89 L618.70,231.93 L618.95,231.98 L619.20,232.04 L619.45,232.10 L619.70,232.16 L619.95,232.21 L620.20,232.25 L620.45,232.27 L620.70,232.27 L620.95,232.24 L621.20,232.20 L621.45,232.15 L621.70,232.09 L621.95,232.03 L622.20,231.97 L622.45,231.93 L622.70,231.90 L622.95,231.88 L623.20,231.87 L623.45,231.87 L623.70,231.87 L623.95,231.87 L624.20,231.87 L624.45,231.87 L624.70,231.87 L624.95,231.87 L625.20,231.88 L625.45,231.90 L625.70,231.93 L625.95,231.97 L626.20,232.02 L626.45,232.08 L626.70,232.14 L626.95,232.19 L627.20,232.23 L627.45,232.26 L627.70,232.26 L627.95,232.25 L628.20,232.21 L628.45,232.17 L628.70,232.11 L628.95,232.06 L629.20,232.00 L629.45,231.96 L629.70,231.92 L629.95,231.90 L630.20,231.89 L630.45,231.89 L630.70,231.89 L630.95,231.89 L631.20,231.89 L631.45,231.89 L631.70,231.89 L631.95,231.89 L632.20,231.90 L632.45,231.91 L632.70,231.93 L632.95,231.96 L633.20,232.01 L633.45,232.06 L633.70,232.11 L633.95,232.17 L634.20,232.21 L634.45,232.24 L634.70,232.25 L634.95,232.25 L635.20,232.22 L635.45,232.18 L635.70,232.14 L635.95,232.08 L636.20,232.03 L636.45,231.99 L636.70,231.95 L636.95,231.93 L637.20,231.91 L637.45,231.91 L637.70,231.91 L637.95,231.91 L638.20,231.91 L638.45,231.91 L638.70,231.91 L638.95,231.91 L639.20,231.91 L639.45,231.92 L639.70,231.94 L639.95,231.96 L640.20,232.00 L640.45,232.05 L640.70,232.10 L640.95,232.15 L641.20,232.19 L641.45,232.22 L641.70,232.24 L641.95,232.24 L642.20,232.23 L642.45,232.20 L642.70,232.16 L642.95,232.11 L643.20,232.06 L643.45,232.01 L643.70,231.98 L643.95,231.95 L644.20,231.93 L644.45,231.92 L644.70,231.92 L644.95,231.92 L645.20,231.92 L645.45,231.92 L645.70,231.92 L645.95,231.92 L646.20,231.92 L646.45,231.93 L646.70,231.94 L646.95,231.96 L647.20,231.99 L647.45,232.03 L647.70,232.08 L647.95,232.13 L648.20,232.17 L648.45,232.21 L648.70,232.23 L648.95,232.24 L649.20,232.23 L649.45,232.21 L649.70,232.17 L649.95,232.13 L650.20,232.08 L650.45,232.04 L650.70,232.00 L650.95,231.97 L651.20,231.95 L651.45,231.94 L651.70,231.93 L651.95,231.93 L652.20,231.94 L652.45,231.94 L652.70,231.94 L652.95,231.94 L653.20,231.94 L653.45,231.94 L653.70,231.95 L653.95,231.96 L654.20,231.99 L654.45,232.02 L654.70,232.07 L654.95,232.11 L655.20,232.15 L655.45,232.19 L655.70,232.22 L655.95,232.23 L656.20,232.23 L656.45,232.21 L656.50,232.21" fill="none" stroke="#1f77b4" stroke-width="2.5" stroke-linejoin="round" stroke-linecap="square"/>
<line x1="148.6" y1="382.9" x2="148.6" y2="6.3" stroke="#000" stroke-width="2.5" stroke-dasharray="9.23 3.99"/>
<line x1="464.7" y1="382.9" x2="464.7" y2="6.3" stroke="#f00" stroke-width="2.5" stroke-dasharray="9.23 3.99"/>
</g>
<g stroke="#000" stroke-width="1.3" fill="none">
<line x1="97.0" y1="81.62" x2="100.0" y2="81.62"/>
<line x1="683.4" y1="81.62" x2="680.4" y2="81.62"/>
<line x1="97.0" y1="156.94" x2="100.0" y2="156.94"/>
<line x1="683.4" y1="156.94" x2="680.4" y2="156.94"/>
<line x1="97.0" y1="232.26" x2="100.0" y2="232.26"/>
<line x1="683.4" y1="232.26" x2="680.4" y2="232.26"/>
<line x1="97.0" y1="307.58" x2="100.0" y2="307.58"/>
<line x1="683.4" y1="307.58" x2="680.4" y2="307.58"/>
<line x1="148.6" y1="382.9" x2="148.6" y2="379.9"/>
<line x1="148.6" y1="6.3" x2="148.6" y2="9.3"/>
<line x1="263.5" y1="382.9" x2="263.5" y2="379.9"/>
<line x1="263.5" y1="6.3" x2="263.5" y2="9.3"/>
<line x1="464.7" y1="382.9" x2="464.7" y2="379.9"/>
<line x1="464.7" y1="6.3" x2="464.7" y2="9.3"/>
<line x1="558.1" y1="382.9" x2="558.1" y2="379.9"/>
<line x1="558.1" y1="6.3" x2="558.1" y2="9.3"/>
<line x1="656.5" y1="382.9" x2="656.5" y2="379.9"/>
<line x1="656.5" y1="6.3" x2="656.5" y2="9.3"/>
</g>
<g fill="#000">
<rect x="96.1" y="5.85" width="1.8" height="377.8"/>
<rect x="682.6" y="5.85" width="1.55" height="377.8"/>
<rect x="96.1" y="5.85" width="588.05" height="1.3"/>
<rect x="96.1" y="382.3" width="588.05" height="1.4"/>
</g>
<rect x="450.6" y="17.0" width="222.6" height="66.8" rx="3" ry="3" fill="rgba(255,255,255,0.8)" stroke="rgba(204,204,204,0.8)" stroke-width="1.27"/>
<line x1="458.9" y1="33.45" x2="502" y2="33.45" stroke="#f00" stroke-width="2.5" stroke-dasharray="9.1 4.25"/>
<line x1="458.9" y1="63.4" x2="502" y2="63.4" stroke="#000" stroke-width="2.5" stroke-dasharray="9.1 4.25"/>
<g class="tx">
<text class="sans" x="518.12" y="41.00" font-size="21.40" textLength="34.01" lengthAdjust="spacingAndGlyphs">End</text>
<text class="sans" x="558.79" y="41.00" font-size="21.40" textLength="17.79" lengthAdjust="spacingAndGlyphs">of</text>
<text class="sans" x="583.31" y="41.00" font-size="21.40" textLength="71.18" lengthAdjust="spacingAndGlyphs">inflation</text>
<text class="sans" x="518.11" y="71.50" font-size="21.40" textLength="66.57" lengthAdjust="spacingAndGlyphs">Horizon</text>
<text class="sans" x="592.70" y="71.50" font-size="21.40" textLength="70.41" lengthAdjust="spacingAndGlyphs">crossing</text>
<text class="serr" x="50.16" y="12.88" font-size="19.19" textLength="10.18" lengthAdjust="spacingAndGlyphs" stroke="#000" stroke-width="0.65">0</text>
<text class="serr" x="61.14" y="12.74" font-size="22.55" textLength="5.73" lengthAdjust="spacingAndGlyphs" stroke="#000" stroke-width="0.65">.</text>
<text class="serr" x="67.73" y="12.88" font-size="19.19" textLength="10.65" lengthAdjust="spacingAndGlyphs" stroke="#000" stroke-width="0.65">0</text>
<text class="serr" x="78.94" y="12.88" font-size="19.26" textLength="10.47" lengthAdjust="spacingAndGlyphs" stroke="#000" stroke-width="0.65">6</text>
<text class="serr" x="50.16" y="88.18" font-size="19.19" textLength="10.18" lengthAdjust="spacingAndGlyphs" stroke="#000" stroke-width="0.65">0</text>
<text class="serr" x="61.14" y="88.04" font-size="22.55" textLength="5.73" lengthAdjust="spacingAndGlyphs" stroke="#000" stroke-width="0.65">.</text>
<text class="serr" x="67.73" y="88.18" font-size="19.19" textLength="10.65" lengthAdjust="spacingAndGlyphs" stroke="#000" stroke-width="0.65">0</text>
<text class="serr" x="79.44" y="88.37" font-size="19.70" textLength="9.62" lengthAdjust="spacingAndGlyphs" stroke="#000" stroke-width="0.65">4</text>
<text class="serr" x="50.16" y="163.28" font-size="19.19" textLength="10.18" lengthAdjust="spacingAndGlyphs" stroke="#000" stroke-width="0.65">0</text>
<text class="serr" x="61.14" y="163.14" font-size="22.55" textLength="5.73" lengthAdjust="spacingAndGlyphs" stroke="#000" stroke-width="0.65">.</text>
<text class="serr" x="67.73" y="163.28" font-size="19.19" textLength="10.65" lengthAdjust="spacingAndGlyphs" stroke="#000" stroke-width="0.65">0</text>
<text class="serr" x="78.82" y="163.47" font-size="19.55" textLength="11.19" lengthAdjust="spacingAndGlyphs" stroke="#000" stroke-width="0.65">2</text>
<text class="serr" x="50.16" y="238.78" font-size="19.19" textLength="10.18" lengthAdjust="spacingAndGlyphs" stroke="#000" stroke-width="0.65">0</text>
<text class="serr" x="61.14" y="238.64" font-size="22.55" textLength="5.73" lengthAdjust="spacingAndGlyphs" stroke="#000" stroke-width="0.65">.</text>
<text class="serr" x="67.73" y="238.78" font-size="19.19" textLength="10.65" lengthAdjust="spacingAndGlyphs" stroke="#000" stroke-width="0.65">0</text>
<text class="serr" x="79.04" y="238.78" font-size="19.19" textLength="10.53" lengthAdjust="spacingAndGlyphs" stroke="#000" stroke-width="0.65">0</text>
<text class="serr" x="50.16" y="316.28" font-size="19.19" textLength="10.18" lengthAdjust="spacingAndGlyphs" stroke="#000" stroke-width="0.65">0</text>
<text class="serr" x="61.14" y="316.14" font-size="22.55" textLength="5.73" lengthAdjust="spacingAndGlyphs" stroke="#000" stroke-width="0.65">.</text>
<text class="serr" x="67.73" y="316.28" font-size="19.19" textLength="10.65" lengthAdjust="spacingAndGlyphs" stroke="#000" stroke-width="0.65">0</text>
<text class="serr" x="78.82" y="316.48" font-size="19.55" textLength="11.19" lengthAdjust="spacingAndGlyphs" stroke="#000" stroke-width="0.65">2</text>
<rect x="33.1" y="310.70" width="14.0" height="1.3"/>
<text class="serr" x="50.16" y="392.08" font-size="19.19" textLength="10.18" lengthAdjust="spacingAndGlyphs" stroke="#000" stroke-width="0.65">0</text>
<text class="serr" x="61.14" y="391.94" font-size="22.55" textLength="5.73" lengthAdjust="spacingAndGlyphs" stroke="#000" stroke-width="0.65">.</text>
<text class="serr" x="67.73" y="392.08" font-size="19.19" textLength="10.65" lengthAdjust="spacingAndGlyphs" stroke="#000" stroke-width="0.65">0</text>
<text class="serr" x="79.44" y="392.28" font-size="19.70" textLength="9.62" lengthAdjust="spacingAndGlyphs" stroke="#000" stroke-width="0.65">4</text>
<rect x="33.1" y="386.50" width="14.0" height="1.3"/>
<text class="sans" x="246.98" y="402.10" font-size="19.51" textLength="29.29" lengthAdjust="spacingAndGlyphs">100</text>
<text class="sans" x="542.73" y="402.10" font-size="19.51" textLength="29.15" lengthAdjust="spacingAndGlyphs">250</text>
<text class="sans" x="641.45" y="402.10" font-size="19.51" textLength="28.92" lengthAdjust="spacingAndGlyphs">300</text>
<rect x="248.6" y="400.6" width="7.2" height="1.4"/>
<text class="si" x="126.00" y="402.41" font-size="21.48" textLength="7.87" lengthAdjust="spacingAndGlyphs" stroke="#000" stroke-width="0.15">t</text>
<text class="ser" x="135.04" y="405.28" font-size="12.44" textLength="34.53" lengthAdjust="spacingAndGlyphs">cross</text>
<text class="si" x="446.72" y="402.41" font-size="21.48" textLength="7.76" lengthAdjust="spacingAndGlyphs" stroke="#000" stroke-width="0.15">t</text>
<text class="ser" x="455.33" y="405.27" font-size="13.33" textLength="25.35" lengthAdjust="spacingAndGlyphs">end</text>
<text class="si" x="322.52" y="432.26" font-size="26.17" textLength="8.97" lengthAdjust="spacingAndGlyphs" stroke="#000" stroke-width="0.15">t</text>
<text class="serr" x="335.34" y="433.94" font-size="26.75" textLength="4.04" lengthAdjust="spacingAndGlyphs" stroke="#000" stroke-width="0.50">[</text>
<text class="serr" x="340.21" y="432.05" font-size="22.42" textLength="11.63" lengthAdjust="spacingAndGlyphs" stroke="#000" stroke-width="0.90">1</text>
<text class="serr" x="353.10" y="432.03" font-size="22.22" textLength="12.71" lengthAdjust="spacingAndGlyphs" stroke="#000" stroke-width="0.90">0</text>
<rect x="367.8" y="419.0" width="12.6" height="1.35"/>
<text class="ser" x="382.62" y="423.45" font-size="15.04" textLength="8.52" lengthAdjust="spacingAndGlyphs">5</text>
<text class="si" x="394.36" y="431.70" font-size="23.55" textLength="25.97" lengthAdjust="spacingAndGlyphs" stroke="#000" stroke-width="0.15">M</text>
<text class="si" x="420.60" y="438.95" font-size="15.50" textLength="9.93" lengthAdjust="spacingAndGlyphs" stroke="#000" stroke-width="0.12">p</text>
<rect x="423.8" y="418.9" width="12.5" height="1.35"/>
<text class="ser" x="438.52" y="423.40" font-size="13.94" textLength="9.25" lengthAdjust="spacingAndGlyphs">1</text>
<text class="serr" x="448.46" y="433.20" font-size="25.54" textLength="5.62" lengthAdjust="spacingAndGlyphs" stroke="#000" stroke-width="0.50">]</text>
<g transform="rotate(-90)">
<text class="bi" x="-224.16" y="19.36" font-size="23.96" textLength="16.75" lengthAdjust="spacingAndGlyphs">ω</text>
<text class="ser" x="-206.74" y="10.60" font-size="14.79" textLength="9.88" lengthAdjust="spacingAndGlyphs">2</text>
<text class="bi" x="-206.60" y="26.00" font-size="15.83" textLength="9.84" lengthAdjust="spacingAndGlyphs">k</text>
<text class="serr" x="-192.96" y="19.41" font-size="24.90" textLength="7.84" lengthAdjust="spacingAndGlyphs" stroke="#000" stroke-width="0.20">(</text>
<text class="si" x="-186.14" y="19.55" font-size="27.22" textLength="8.75" lengthAdjust="spacingAndGlyphs" stroke="#000" stroke-width="0.15">t</text>
<text class="serr" x="-175.98" y="19.41" font-size="24.90" textLength="9.05" lengthAdjust="spacingAndGlyphs" stroke="#000" stroke-width="0.20">)</text>
</g>
</g>
</svg>
</body></html>
